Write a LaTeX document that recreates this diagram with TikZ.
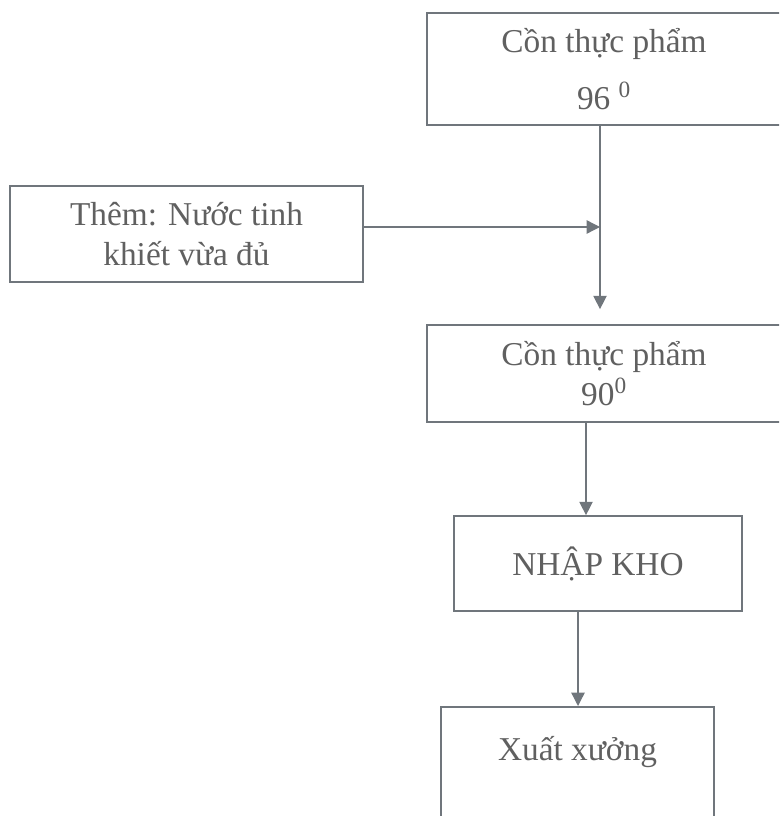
\documentclass[tikz,border=0pt]{standalone}
\usepackage{fontspec}
\setmainfont{Liberation Serif}
\usetikzlibrary{arrows.meta,positioning}
\definecolor{linegray}{RGB}{112,118,124}
\definecolor{textgray}{RGB}{96,96,96}
\tikzset{
  box/.style={draw=linegray, line width=1.3pt, align=center, text=textgray, font=\fontsize{25}{30}\selectfont, inner sep=0pt},
  txt/.style={align=center, text=textgray, font=\fontsize{25}{30}\selectfont, inner sep=0pt},
  arr/.style={draw=linegray, line width=1pt, -{Triangle[length=10pt,width=10pt]}},
}
\begin{document}
\begin{tikzpicture}[x=0.75pt,y=-0.75pt]
  \useasboundingbox (0,0) rectangle (779,816);
  \clip (0,0) rectangle (779,816);

  % process boxes
  \node[box, minimum width=265.5pt, minimum height=84pt] (b1) at (604,69)
    {Cồn thực phẩm\\[13pt]96 \textsuperscript{0}};
  \node[box, minimum width=264.75pt, minimum height=72pt] (b2) at (186.5,234)
    {Thêm: Nước tinh\\khiết vừa đủ};
  \node[box, minimum width=265.5pt, minimum height=72.75pt] (b3) at (604,373.5)
    {Cồn thực phẩm\\90\textsuperscript{0}};
  \node[box, minimum width=216pt, minimum height=71.25pt] (b4) at (598,563.5)
    {NHẬP KHO};
  \node[box, minimum width=204.75pt, minimum height=105pt, anchor=north] (b5) at (577.5,706) {};
  \node[txt, below=22.5pt of b5.north] (t5) {Xuất xưởng};

  % connectors
  \coordinate (j) at (600,227);
  \draw[arr, shorten >=11.25pt] (b1.south -| j) -- (b3.north -| j);
  \draw[arr] (b2.east |- j) -- (j);
  \draw[arr] (b3.south -| 586,0) -- (b4.north -| 586,0);
  \draw[arr] (b4.south -| 578,0) -- (b5.north -| 578,0);
\end{tikzpicture}
\end{document}
